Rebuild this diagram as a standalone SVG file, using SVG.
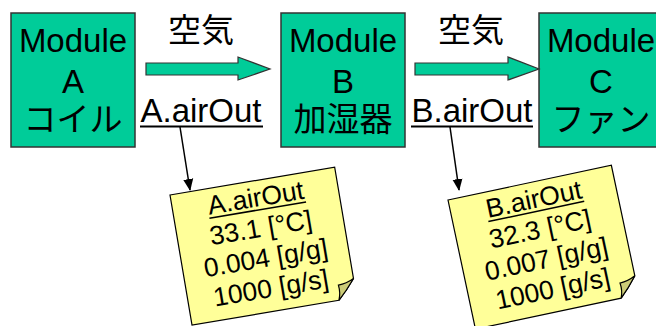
<svg xmlns="http://www.w3.org/2000/svg" width="656" height="326" viewBox="0 0 656 326">
<style>
.box{fill:#00CC99;stroke:#333;stroke-width:1.5}
.t{font-family:"Liberation Sans","Noto Sans CJK JP",Arial,sans-serif;font-size:33px;fill:#000;text-anchor:middle}
.n{font-family:"Liberation Sans","Noto Sans CJK JP",Arial,sans-serif;font-size:26.5px;fill:#000;text-anchor:middle}
.flow{fill:#00CC99;stroke:#333;stroke-width:1.2}
.lead{stroke:#000;stroke-width:1.5;fill:none}
.note{fill:#FFFF99;stroke:#000;stroke-width:1.2}
.fold{fill:#CCCC77;stroke:#000;stroke-width:1.2}
</style>
<defs>
<marker id="ah" markerUnits="userSpaceOnUse" markerWidth="12" markerHeight="12" viewBox="0 0 12 12" refX="11" refY="6" orient="auto">
<path d="M0,1 L12,6 L0,11 Z" fill="#000"/>
</marker>
</defs>
<g id="moduleA">
<rect class="box" x="11" y="13" width="124" height="134"/>
<text class="t" x="73" y="52">Module</text>
<text class="t" x="73" y="93">A</text>
<text class="t" x="73" y="131">コイル</text>
</g>
<g id="moduleB">
<rect class="box" x="281" y="13" width="124" height="134"/>
<text class="t" x="343" y="52">Module</text>
<text class="t" x="343" y="93">B</text>
<text class="t" x="343" y="131">加湿器</text>
</g>
<g id="moduleC">
<rect class="box" x="539" y="13" width="124" height="134"/>
<text class="t" x="601" y="52">Module</text>
<text class="t" x="601" y="93">C</text>
<text class="t" x="601" y="131">ファン</text>
</g>
<g id="connectors">
<polygon class="flow" points="146,63 238,63 238,57 270,69 238,80 238,75 146,75"/>
<polygon class="flow" points="415,63 508,63 508,57 539,69 508,80 508,75 415,75"/>
<text class="t" x="201" y="42">空気</text>
<text class="t" x="471" y="42">空気</text>
<text class="t" x="201" y="122">A.airOut</text>
<line x1="140" y1="126.5" x2="263" y2="126.5" stroke="#000" stroke-width="2"/>
<text class="t" x="472" y="122">B.airOut</text>
<line x1="411" y1="126.5" x2="533" y2="126.5" stroke="#000" stroke-width="2"/>
<line class="lead" x1="180" y1="127" x2="190" y2="190" marker-end="url(#ah)"/>
<line class="lead" x1="450" y1="127" x2="459" y2="190" marker-end="url(#ah)"/>
</g>
<g id="noteA" transform="translate(170,195) rotate(-9.6)">
<path class="note" d="M0,0 H167 V113 Q158,124 149,132 H0 Z"/>
<path class="fold" d="M167,113 Q159,117 151,117 Q152,125 149,132 Q158,124 167,113 Z"/>
<text class="n" x="84" y="26">A.airOut</text>
<line x1="35" y1="29.5" x2="133" y2="29.5" stroke="#000" stroke-width="1.5"/>
<text class="n" x="84" y="56.5">33.1 [°C]</text>
<text class="n" x="84" y="87">0.004 [g/g]</text>
<text class="n" x="84" y="117.5">1000 [g/s]</text>
</g>
<g id="noteB" transform="translate(448,200) rotate(-12)">
<path class="note" d="M0,0 H167 V113 Q158,124 149,132 H0 Z"/>
<path class="fold" d="M167,113 Q159,117 151,117 Q152,125 149,132 Q158,124 167,113 Z"/>
<text class="n" x="84" y="26">B.airOut</text>
<line x1="35" y1="29.5" x2="133" y2="29.5" stroke="#000" stroke-width="1.5"/>
<text class="n" x="84" y="56.5">32.3 [°C]</text>
<text class="n" x="84" y="87">0.007 [g/g]</text>
<text class="n" x="84" y="117.5">1000 [g/s]</text>
</g>
</svg>
